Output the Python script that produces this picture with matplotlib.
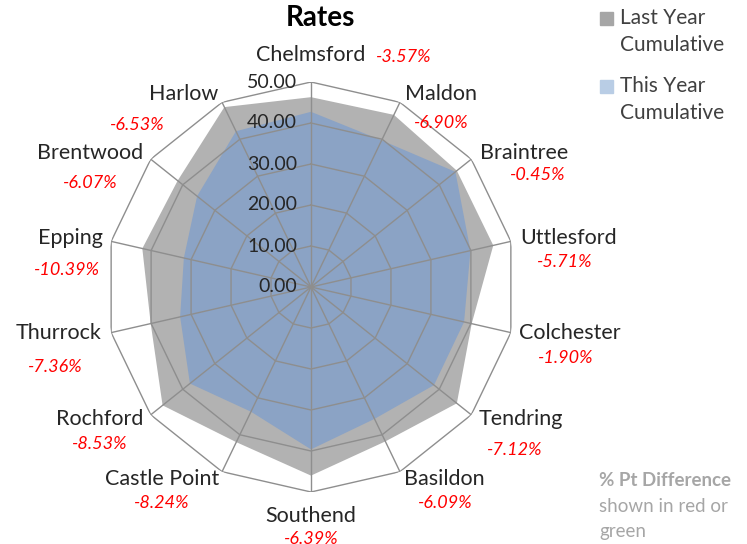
import numpy as np
import matplotlib
matplotlib.use("Agg")
import matplotlib.pyplot as plt
from matplotlib.patches import Rectangle

plt.rcParams['font.family'] = ['Lato', 'DejaVu Sans']

# data (clockwise from top)
areas = ["Chelmsford", "Maldon", "Braintree", "Uttlesford", "Colchester", "Tendring",
         "Basildon", "Southend", "Castle Point", "Rochford", "Thurrock", "Epping",
         "Brentwood", "Harlow"]
last_year = [46.3, 46.6, 45.5, 45.6, 40.2, 45.5, 41.8, 46.0, 42.0, 46.3, 40.1, 42.2, 41.6, 48.7]
pct_diff = [-3.57, -6.90, -0.45, -5.71, -1.90, -7.12, -6.09, -6.39, -8.24, -8.53, -7.36,
            -10.39, -6.07, -6.53]
this_year = [46.3 - 3.57, 46.6 - 6.90, 45.5 - 0.45, 45.6 - 5.71, 40.2 - 1.90, 45.5 - 7.12,
             41.8 - 6.09, 46.0 - 6.39, 42.0 - 8.24, 46.3 - 8.53, 40.1 - 7.36, 42.2 - 10.39,
             41.6 - 6.07, 48.7 - 6.53]
rings = [0, 10, 20, 30, 40, 50]

# label positions in pixels (name, pct)
name_pos = [(311, 55), (441, 94), (524, 153), (569, 238), (570, 333), (521, 419),
            (444, 479), (311, 516), (162, 479), (100, 419), (59, 333), (70, 238),
            (90, 153), (184, 94)]
pct_pos = [(404, 57), (441, 123), (538, 175), (565, 262), (566, 358), (515, 450),
           (445, 503), (311, 539), (162, 503), (100, 444), (55, 367), (67, 270),
           (90, 183), (137, 125)]

W, H = 747, 544
fig = plt.figure(figsize=(W / 100, H / 100), dpi=100)


def fx(p):
    return p[0] / W, 1 - p[1] / H


cx, cy, R = 311, 287, 205
ax = fig.add_axes([(cx - R) / W, (H - cy - R) / H, 2 * R / W, 2 * R / H], projection='polar')
ax.set_theta_zero_location('N')
ax.set_theta_direction(-1)
ax.set_ylim(0, 50)
ax.grid(False)
ax.set_xticks([])
ax.set_yticks([])
ax.spines['polar'].set_visible(False)
ax.patch.set_visible(False)

n = len(areas)
angles = np.arange(n) * 2 * np.pi / n
th = np.append(angles, angles[0])

ax.fill(th, np.append(last_year, last_year[0]), color='#b2b2b2', lw=0, zorder=1)
ax.fill(th, np.append(this_year, this_year[0]), color='#8ba3c5', lw=0, zorder=2)

for r in rings[1:]:
    ax.plot(th, [r] * len(th), color='#8e8e8e', lw=1, zorder=3)
for a in angles:
    ax.plot([a, a], [0, 50], color='#8e8e8e', lw=1, zorder=3)

for r in rings:
    ax.annotate(f"{r:.2f}", xy=(0, r), xytext=(-10, 0), textcoords='offset points',
                ha='right', va='center', fontsize=14, color='#262626', zorder=4)

for name, d, p1, p2 in zip(areas, pct_diff, name_pos, pct_pos):
    fig.text(*fx(p1), name, ha='center', va='center', fontsize=15.5, color='#262626')
    fig.text(*fx(p2), f"{d:.2f}%", ha='center', va='center', fontsize=13,
             color='#ff0000', style='italic')

fig.text(*fx((320, 18)), "Rates", ha='center', va='center', fontsize=20,
         fontweight='bold', color='#000000')

# legend
fig.patches.append(Rectangle(fx((600, 25)), 13 / W, 13 / H, color='#a6a6a6',
                             transform=fig.transFigure, figure=fig))
fig.patches.append(Rectangle(fx((600, 93)), 13 / W, 13 / H, color='#b9cde5',
                             transform=fig.transFigure, figure=fig))
fig.text(*fx((620, 18)), "Last Year", ha='left', va='center', fontsize=15, color='#404040')
fig.text(*fx((620, 45)), "Cumulative", ha='left', va='center', fontsize=15, color='#404040')
fig.text(*fx((620, 86)), "This Year", ha='left', va='center', fontsize=15, color='#404040')
fig.text(*fx((620, 113)), "Cumulative", ha='left', va='center', fontsize=15, color='#404040')

fig.text(*fx((599, 480)), "% Pt Difference", ha='left', va='center', fontsize=13.5,
         fontweight='bold', color='#a6a6a6')
fig.text(*fx((599, 506)), "shown in red or", ha='left', va='center', fontsize=13.5,
         color='#a6a6a6')
fig.text(*fx((599, 532)), "green", ha='left', va='center', fontsize=13.5, color='#a6a6a6')

fig.savefig("out.png", dpi=100)
